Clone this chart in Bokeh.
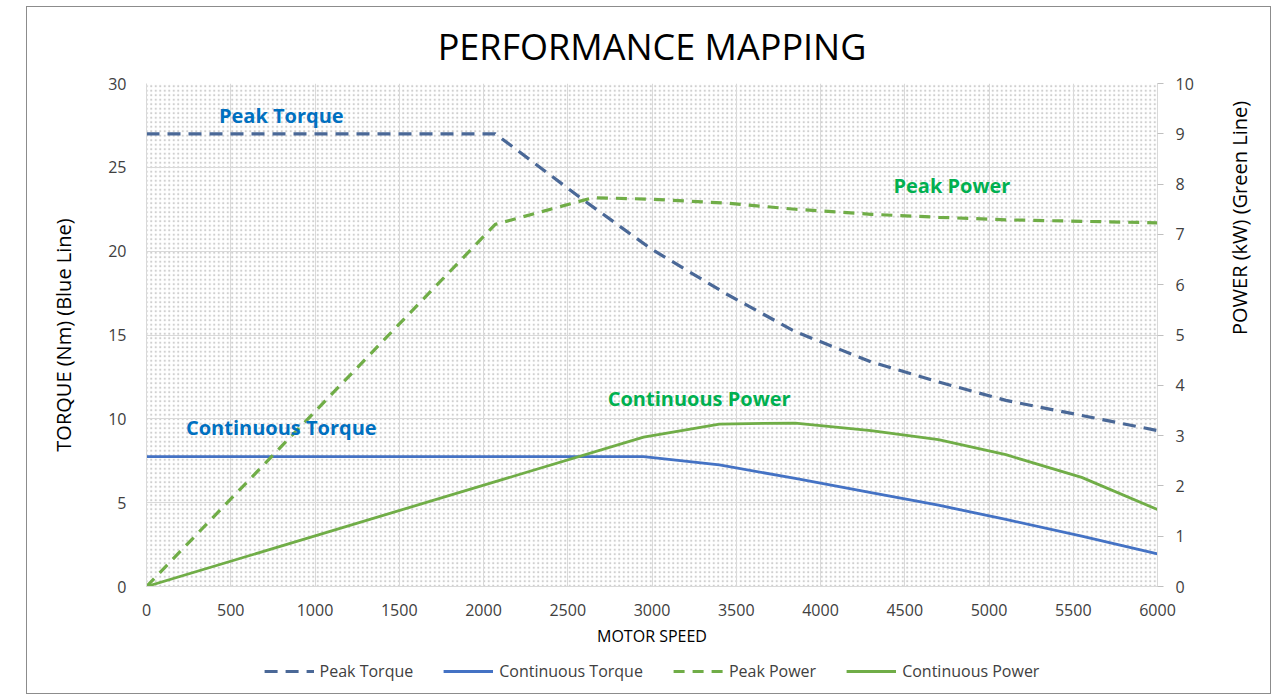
import math
from bokeh.plotting import figure
from bokeh.layouts import column
from bokeh.models import (Range1d, LinearAxis, FixedTicker, Legend, LegendItem,
                          BoxAnnotation, Label, Grid)
from bokeh.embed import file_html
from bokeh.resources import INLINE

# ---- data ----
peak_torque_rpm = [0, 2070, 2600, 3000, 3450, 3850, 4300, 4700, 5100, 5550, 6000]
peak_torque = [27.0, 27.0, 23.0, 20.1, 17.4, 15.2, 13.4, 12.2, 11.1, 10.2, 9.3]

cont_torque_rpm = [0, 2950, 3400, 3850, 4300, 4700, 5100, 5550, 6000]
cont_torque = [7.75, 7.75, 7.25, 6.45, 5.6, 4.85, 4.0, 3.0, 1.95]

peak_power_rpm = [0, 2070, 2650, 3000, 3450, 3850, 4300, 4700, 5100, 5550, 6000]
peak_power = [0.0, 7.2, 7.73, 7.7, 7.62, 7.5, 7.4, 7.34, 7.29, 7.26, 7.23]

cont_power_rpm = [0, 2950, 3400, 3850, 4300, 4700, 5100, 5550, 6000]
cont_power = [0.0, 2.97, 3.23, 3.25, 3.1, 2.92, 2.62, 2.17, 1.53]

x_ticks = list(range(0, 6001, 500))
torque_ticks = [0, 5, 10, 15, 20, 25, 30]
power_ticks = list(range(0, 11))
series_names = ["Peak Torque", "Continuous Torque", "Peak Power", "Continuous Power"]

FONT = "Open Sans"
BLUE_D = "#4A6897"
BLUE = "#4472C4"
GREEN = "#70AD47"
GRID = "#D9D9D9"
TXT = "#404040"

W = 1243
p = figure(width=W, height=642, output_backend="svg", toolbar_location=None,
           x_range=Range1d(0, 6000), y_range=Range1d(0, 30),
           min_border_left=119, min_border_right=113, min_border_top=76,
           min_border_bottom=62, x_axis_type=None, y_axis_type=None)
p.outline_line_color = None
p.background_fill_color = "white"
p.border_fill_color = "white"

p.title.text = "PERFORMANCE MAPPING"
p.title.align = "center"
p.title.text_font = FONT
p.title.text_font_size = "36px"
p.title.text_font_style = "normal"
p.title.text_color = "#000000"
p.title.standoff = 25

p.add_layout(BoxAnnotation(fill_alpha=0, hatch_pattern="dot", hatch_scale=4.5,
                           hatch_color="#a8a8a8", hatch_weight=0.5, hatch_alpha=0.55,
                           line_alpha=0, level="underlay"))

p.extra_y_ranges = {"power": Range1d(0, 10)}

xaxis = LinearAxis(ticker=FixedTicker(ticks=x_ticks), axis_label="MOTOR SPEED")
yaxis = LinearAxis(ticker=FixedTicker(ticks=torque_ticks), axis_label="TORQUE (Nm) (Blue Line)")
raxis = LinearAxis(ticker=FixedTicker(ticks=power_ticks), y_range_name="power",
                   axis_label="POWER (kW) (Green Line)")
for ax in (xaxis, yaxis, raxis):
    ax.major_label_text_font = FONT
    ax.major_label_text_font_size = "16px"
    ax.major_label_text_color = TXT
    ax.axis_label_text_font = FONT
    ax.axis_label_text_font_style = "normal"
    ax.axis_label_text_color = "#000000"
    ax.minor_tick_line_color = None
    ax.axis_line_color = GRID
    ax.major_tick_line_color = None
    ax.major_label_standoff = 12
xaxis.axis_label_text_font_size = "16px"
xaxis.axis_label_standoff = 6
xaxis.major_label_standoff = 11
yaxis.axis_label_text_font_size = "20px"
yaxis.axis_label_standoff = 28
yaxis.major_label_standoff = 14
raxis.axis_label_text_font_size = "20px"
raxis.axis_label_standoff = 43
raxis.axis_label_orientation = math.pi / 2
raxis.major_tick_line_color = "#BFBFBF"
raxis.major_tick_out = 6
raxis.major_tick_in = 0
raxis.major_label_standoff = 12
p.add_layout(xaxis, "below")
p.add_layout(yaxis, "left")
p.add_layout(raxis, "right")

p.add_layout(Grid(dimension=0, ticker=xaxis.ticker, grid_line_color=GRID))
p.add_layout(Grid(dimension=1, ticker=yaxis.ticker, grid_line_color=GRID))

styles = [dict(line_color=BLUE_D, line_width=3.2, line_dash="13 8"),
          dict(line_color=BLUE, line_width=2.8),
          dict(line_color=GREEN, line_width=3.2, line_dash="11 8"),
          dict(line_color=GREEN, line_width=2.8)]
series_x = [peak_torque_rpm, cont_torque_rpm, peak_power_rpm, cont_power_rpm]
series_y = [peak_torque, cont_torque, peak_power, cont_power]

p.line(peak_torque_rpm, peak_torque, **styles[0])
p.line(cont_torque_rpm, cont_torque, **styles[1])
p.line(peak_power_rpm, peak_power, y_range_name="power", **styles[2])
p.line(cont_power_rpm, cont_power, y_range_name="power", **styles[3])

def lab(x, y, t, c):
    p.add_layout(Label(x=x, y=y, text=t, text_color=c, text_font=FONT,
                       text_font_size="20px", text_font_style="bold",
                       text_align="center", text_baseline="middle"))

lab(800, 28.1, "Peak Torque", "#0070C0")
lab(800, 9.5, "Continuous Torque", "#0070C0")
lab(4780, 23.9, "Peak Power", "#00B050")
lab(3280, 11.2, "Continuous Power", "#00B050")

# legend strip below the chart (its own ranges keep the series out of view)
lf = figure(width=W, height=44, output_backend="svg", toolbar_location=None,
            x_range=Range1d(-2, -1), y_range=Range1d(-2, -1), min_border=0,
            x_axis_type=None, y_axis_type=None)
lf.outline_line_color = None
lf.xgrid.visible = False
lf.ygrid.visible = False
items = []
for name, st, xs, ys in zip(series_names, styles, series_x, series_y):
    r = lf.line(xs, ys, **st)
    items.append(LegendItem(label=name, renderers=[r]))
legend = Legend(items=items, orientation="horizontal", location="center",
                label_text_font=FONT, label_text_font_size="16px",
                label_text_color=TXT, glyph_width=50, spacing=30, label_standoff=6,
                border_line_alpha=0, background_fill_alpha=0, margin=0, padding=2)
lf.add_layout(legend, "center")

layout = column(p, lf, spacing=0, margin=(6, 0, 0, 26),
                styles={"border": "1px solid #8c8c8c", "background-color": "white"})

open("out.html", "w").write(file_html(layout, INLINE))
